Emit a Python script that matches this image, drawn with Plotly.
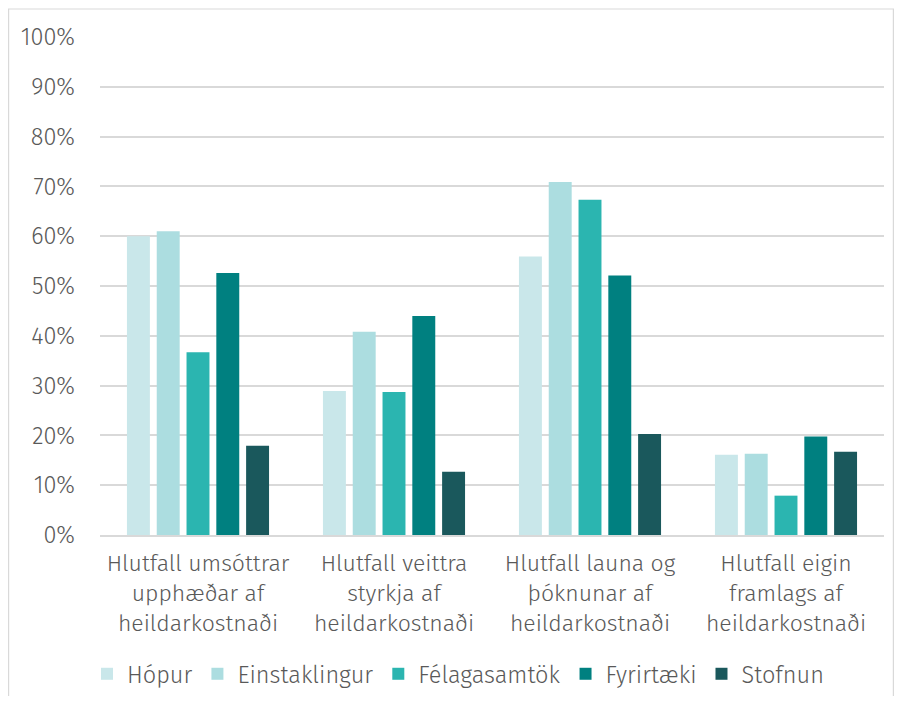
import plotly.graph_objects as go

categories = [
    "Hlutfall umsóttrar<br>upphæðar af<br>heildarkostnaði",
    "Hlutfall veittra<br>styrkja af<br>heildarkostnaði",
    "Hlutfall launa og<br>þóknunar af<br>heildarkostnaði",
    "Hlutfall eigin<br>framlags af<br>heildarkostnaði",
]
series_names = ["Hópur", "Einstaklingur", "Félagasamtök", "Fyrirtæki", "Stofnun"]
hopur = [0.600, 0.289, 0.559, 0.161]
einstaklingur = [0.610, 0.408, 0.709, 0.163]
felagasamtok = [0.367, 0.287, 0.673, 0.079]
fyrirtaeki = [0.526, 0.440, 0.521, 0.198]
stofnun = [0.179, 0.127, 0.203, 0.167]
colors = ["#c9e7ea", "#acdde0", "#2bb5b0", "#008080", "#1a585c"]
tick_vals = [0, 0.1, 0.2, 0.3, 0.4, 0.5, 0.6, 0.7, 0.8, 0.9, 1.0]
tick_text = ["0%", "10%", "20%", "30%", "40%", "50%", "60%", "70%", "80%", "90%", "100%"]

values = [hopur, einstaklingur, felagasamtok, fyrirtaeki, stofnun]

font_family = "Fira Sans, Lato, Noto Sans, sans-serif"
text_color = "#595959"

fig = go.Figure()
for name, vals, col in zip(series_names, values, colors):
    fig.add_trace(go.Bar(
        x=categories, y=vals, name=name,
        marker=dict(color=col, line=dict(width=0)),
    ))

# page body has an 8px margin; figure coords = window coords - 8
OFF = 8
W, H = 886, 688
L, R, T, B = 100 - OFF, 10, 37 - OFF, 161
pw, ph = W - L - R, H - T - B

def px_x(p):
    return (p - OFF - L) / pw

def px_y(p):
    return (H - B - (p - OFF)) / ph

fig.update_layout(
    width=W, height=H,
    margin=dict(l=L, r=R, t=T, b=B, autoexpand=False),
    paper_bgcolor="white", plot_bgcolor="white",
    barmode="group", bargap=0.24, bargroupgap=0.23,
    font=dict(family=font_family, color=text_color, size=23, weight=300),
    showlegend=True,
    legend=dict(
        orientation="h", x=px_x(87), xanchor="left",
        y=px_y(674), yanchor="middle",
        font=dict(size=23.5, color=text_color, weight=300),
        traceorder="normal",
    ),
    xaxis=dict(
        showgrid=False, showline=True, linecolor="#d9d9d9", linewidth=1.5,
        ticks="", tickfont=dict(size=23, color=text_color, weight=300),
        ticklabelstandoff=7,
    ),
    yaxis=dict(
        range=[0, 1.0], tickvals=tick_vals, ticktext=tick_text,
        showgrid=True, gridcolor="#d9d9d9", gridwidth=1.5,
        zeroline=False, showline=False, ticks="",
        tickfont=dict(size=23.5, color=text_color, weight=300),
        ticklabelstandoff=24,
    ),
    shapes=[dict(
        type="rect", xref="paper", yref="paper",
        x0=px_x(8.6), x1=px_x(893.4), y0=px_y(720), y1=px_y(9),
        line=dict(color="#d9d9d9", width=1.2), fillcolor="rgba(0,0,0,0)",
        layer="below",
    )],
)

fig.write_html("out.html")
